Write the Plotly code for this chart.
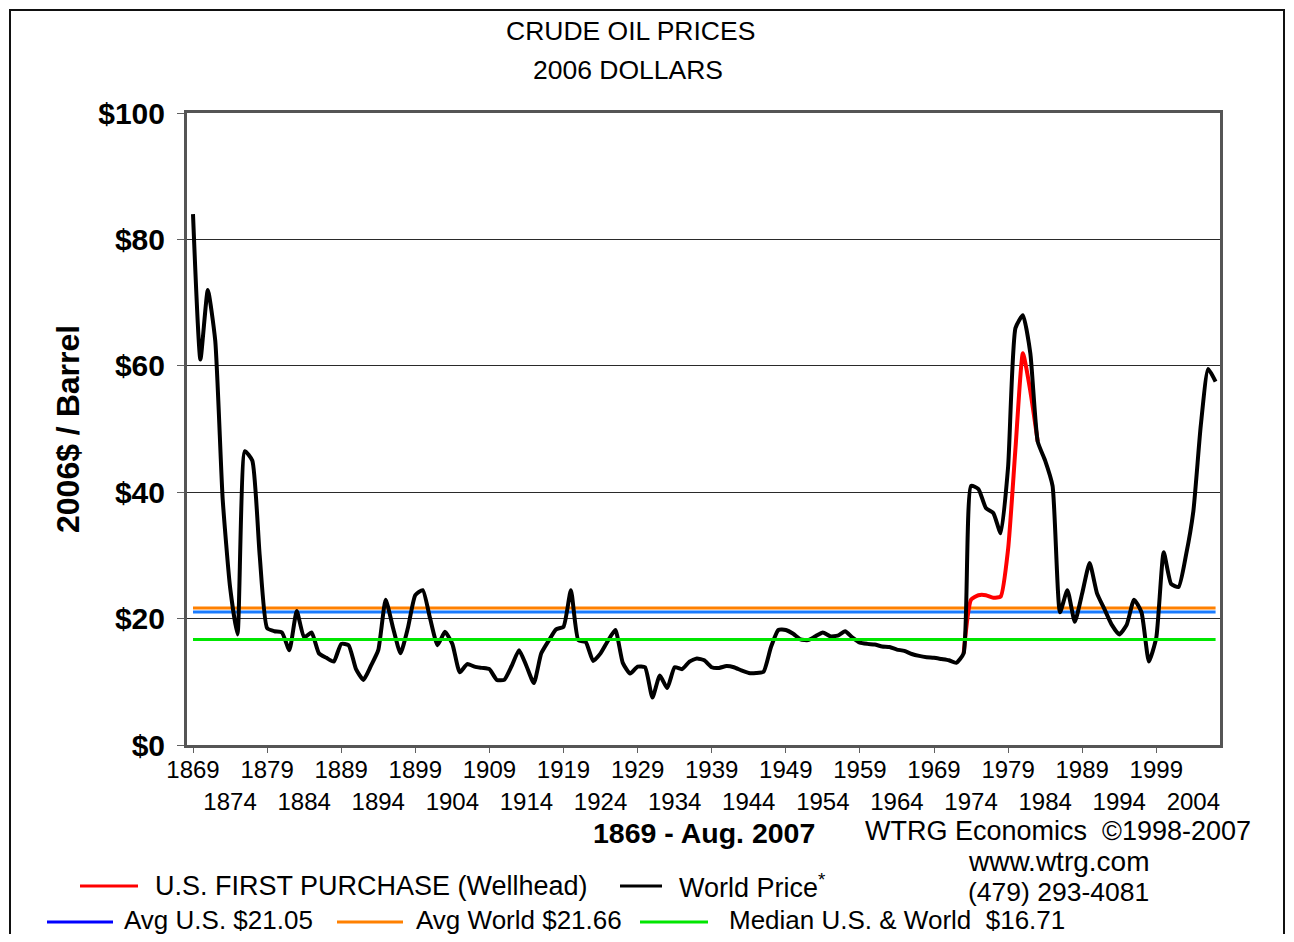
import plotly.graph_objects as go

# ---------------- data ----------------
years = list(range(1869, 2008))
world_price = [
    84, 61, 72, 64, 39, 25, 17.5, 46.5, 45, 30,            # 1869-1878
    18.5, 18, 17.8, 15, 21.2, 17, 17.8, 14.5, 13.8, 13.2,  # 1879-1888
    16, 15.8, 12, 10.3, 12.5, 15, 23, 18.5, 14.5, 18.5,    # 1889-1898
    23.7, 24.5, 20, 15.8, 17.9, 16, 11.5, 12.8, 12.4, 12.2,  # 1899-1908
    12, 10.3, 10.3, 12.5, 15, 12.5, 9.8, 14.5, 16.5, 18.3,   # 1909-1918
    18.7, 24.5, 16.6, 16.3, 13.3, 14.5, 16.5, 18.2, 13, 11.3,  # 1919-1928
    12.4, 12.3, 7.5, 11, 9, 12.3, 12, 13.2, 13.7, 13.4,      # 1929-1938
    12.3, 12.2, 12.5, 12.3, 11.8, 11.4, 11.4, 11.6, 15.5, 18.2,  # 1939-1948
    18.2, 17.6, 16.7, 16.6, 17.2, 17.8, 17.2, 17.3, 18, 17,  # 1949-1958
    16.2, 16, 15.9, 15.6, 15.5, 15.1, 14.9, 14.4, 14.1, 13.9,  # 1959-1968
    13.8, 13.6, 13.4, 13.0, 14.5, 41, 40.5, 37.5, 36.7, 33.5,  # 1969-1978
    44, 66, 68, 62, 48, 45, 41, 21, 24.5, 19.5,              # 1979-1988
    24, 28.8, 24, 21.5, 19, 17.5, 19, 23, 21, 13.2,          # 1989-1998
    17, 30.5, 25.5, 25, 30, 37, 50.5, 59.5, 57.5,            # 1999-2007
]
us_years = list(range(1973, 1984))
us_price = [14.5, 23, 23.7, 23.7, 23.3, 23.5, 31, 47, 62, 56, 48]

avg_us = 21.05
avg_world = 21.66
median_all = 16.71

y_ticks = [0, 20, 40, 60, 80, 100]
y_tick_labels = ["$0", "$20", "$40", "$60", "$80", "$100"]
x_ticks_row1 = list(range(1869, 2000, 10))
x_ticks_row2 = list(range(1874, 2005, 10))

# ---------------- layout helpers ----------------
OFF = 8                                   # page offset of the figure (body margin)
W, H = 1294 - 2 * OFF, 942 - 2 * OFF      # figure fits the window without scrolling
PL, PR, PT, PB = 187, 1220, 113, 745      # plot area in page pixels


def px(x):
    return (x - PL) / (PR - PL)


def py(y):
    return (PB - y) / (PB - PT)


FONT = "Liberation Sans, Arial, sans-serif"

fig = go.Figure()

# horizontal reference lines
fig.add_trace(go.Scatter(x=[years[0], years[-1]], y=[avg_world, avg_world], mode="lines",
                         line=dict(color="#ff8000", width=3), showlegend=False))
fig.add_trace(go.Scatter(x=[years[0], years[-1]], y=[avg_us, avg_us], mode="lines",
                         line=dict(color="#1a7cff", width=3), showlegend=False))
fig.add_trace(go.Scatter(x=[years[0], years[-1]], y=[median_all, median_all], mode="lines",
                         line=dict(color="#00e600", width=3), showlegend=False,
                         xaxis="x2"))
# US first purchase
fig.add_trace(go.Scatter(x=us_years, y=us_price, mode="lines",
                         line=dict(color="#ff0000", width=4, shape="spline", smoothing=0.5),
                         showlegend=False))
# World price
fig.add_trace(go.Scatter(x=years, y=world_price, mode="lines",
                         line=dict(color="#000000", width=4, shape="spline", smoothing=0.5),
                         showlegend=False))

x_range = [1869 - (193 - PL) / 7.41, 1869 + (PR - 193) / 7.41]

fig.update_layout(
    width=W, height=H,
    margin=dict(l=PL - OFF, r=W - (PR - OFF), t=PT - OFF, b=H - (PB - OFF), pad=0),
    paper_bgcolor="white", plot_bgcolor="white",
    font=dict(family=FONT, color="black"),
    showlegend=False,
    xaxis=dict(range=x_range, tickmode="array", tickvals=x_ticks_row1,
               ticktext=[str(v) for v in x_ticks_row1],
               tickfont=dict(size=24, family=FONT, color="black"),
               ticks="outside", ticklen=5, tickcolor="#606060",
               ticklabelstandoff=-4,
               showgrid=False, zeroline=False,
               showline=True, linecolor="#555555", linewidth=3, mirror=True),
    xaxis2=dict(range=x_range, overlaying="x", anchor="y", side="bottom",
                tickmode="array", tickvals=x_ticks_row2,
                ticktext=[str(v) for v in x_ticks_row2],
                tickfont=dict(size=24, family=FONT, color="black"),
                ticks="", ticklabelstandoff=40,
                showgrid=False, zeroline=False, showline=False),
    yaxis=dict(range=[0, 100], tickmode="array", tickvals=y_ticks, ticktext=y_tick_labels,
               tickfont=dict(size=30, family=FONT, color="black", weight="bold"),
               ticks="outside", ticklen=7, tickcolor="#606060",
               ticklabelstandoff=6,
               showgrid=True, gridcolor="#2a2a2a", gridwidth=1,
               zeroline=False,
               showline=True, linecolor="#555555", linewidth=3, mirror=True),
)

annotations = [
    dict(text="CRUDE OIL PRICES", x=px(630), y=py(31), font=dict(size=26.5)),
    dict(text="2006 DOLLARS", x=px(628), y=py(70), font=dict(size=26.5)),
    dict(text="<b>2006$ / Barrel</b>", x=px(68), y=py(429), textangle=-90, font=dict(size=32)),
    dict(text="<b>1869 - Aug. 2007</b>", x=px(704), y=py(833), font=dict(size=28.5)),
    dict(text="WTRG Economics  ©1998-2007", x=px(1058), y=py(831), font=dict(size=27)),
    dict(text="www.wtrg.com", x=px(1058), y=py(862), font=dict(size=28)),
    dict(text="(479) 293-4081", x=px(1058), y=py(892), font=dict(size=26.5)),
    dict(text="U.S. FIRST PURCHASE (Wellhead)", x=px(153), y=py(886), xanchor="left", font=dict(size=27)),
    dict(text="World Price<sup>*</sup>", x=px(677), y=py(886), xanchor="left", font=dict(size=27)),
    dict(text="Avg U.S. $21.05", x=px(122), y=py(920), xanchor="left", font=dict(size=26)),
    dict(text="Avg World $21.66", x=px(414), y=py(920), xanchor="left", font=dict(size=26)),
    dict(text="Median U.S. & World  $16.71", x=px(727), y=py(920), xanchor="left", font=dict(size=26)),
]
for a in annotations:
    a.setdefault("xanchor", "center")
    a.update(xref="paper", yref="paper", yanchor="middle", showarrow=False)
    a["font"].update(family=FONT, color="black")
fig.update_layout(annotations=annotations)

shapes = []
legend_lines = [
    (80, 138, 886, "#ff0000"),
    (620, 662, 886, "#000000"),
    (47, 113, 922, "#0000ff"),
    (337, 403, 922, "#ff8000"),
    (640, 708, 922, "#00e600"),
]
for x0, x1, yy, c in legend_lines:
    shapes.append(dict(type="line", xref="paper", yref="paper",
                       x0=px(x0), x1=px(x1), y0=py(yy), y1=py(yy),
                       line=dict(color=c, width=3)))
# outer chart frame
shapes.append(dict(type="rect", xref="paper", yref="paper",
                   x0=px(10), x1=px(1284), y0=py(960), y1=py(10),
                   line=dict(color="#111111", width=2), layer="below"))
fig.update_layout(shapes=shapes)

fig.write_html("out.html")
